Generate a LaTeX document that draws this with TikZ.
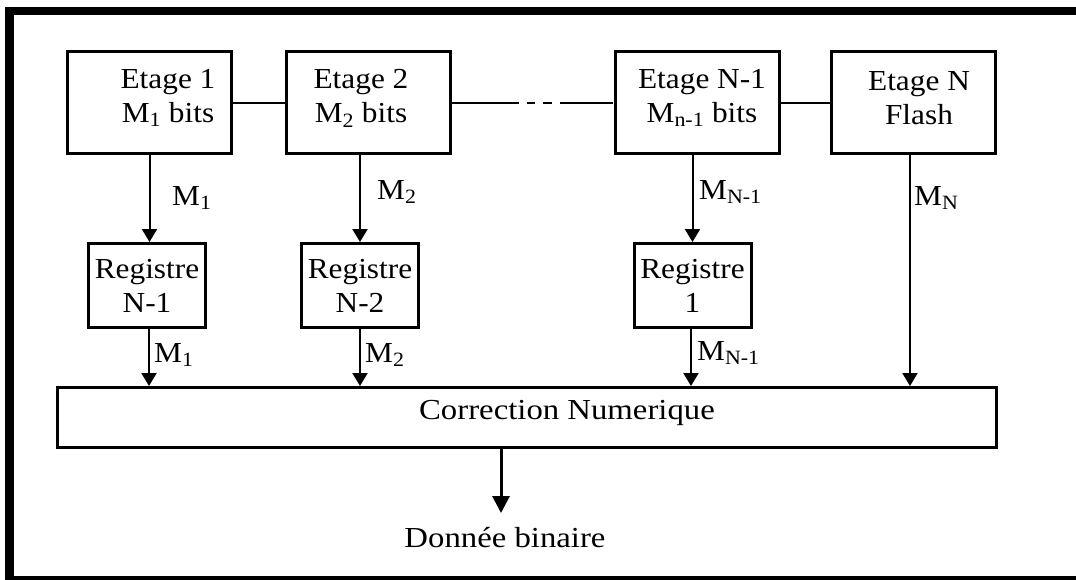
\documentclass[tikz,border=0pt]{standalone}
\usepackage{fontspec}
\setmainfont{Liberation Serif}[FakeStretch=1.08]
\newfontfamily\widefont{Liberation Serif}[FakeStretch=1.13]
\usetikzlibrary{arrows.meta}
\begin{document}
\begin{tikzpicture}[x=1pt,y=-1pt,
  txt/.style={font=\fontsize{29}{34}\selectfont, inner sep=0pt},
  widetxt/.style={font=\widefont\fontsize{29}{34}\selectfont, inner sep=0pt},
  stagebox/.style={draw, line width=3pt, minimum width=164pt, minimum height=102pt, inner sep=0pt},
  regbox/.style={draw, line width=3pt, minimum width=117pt, minimum height=84pt, inner sep=0pt, txt, align=center},
  corrbox/.style={draw, line width=3pt, minimum width=939pt, minimum height=60pt, inner sep=0pt},
  boxtext/.style={txt, align=center},
  link/.style={line width=2pt},
  flow/.style={line width=2pt, -{Triangle[length=13pt,width=15pt]}},
  outflow/.style={line width=3pt, -{Triangle[length=17pt,width=17pt]}},
  bus/.style={txt, anchor=base west},
]
\useasboundingbox (0,0) rectangle (1076,579);
\clip (0,0) rectangle (1076,579);

% outer frame: top, left and bottom edges
\draw[line width=8.5pt] (1090,11) -- (9.5,11) -- (9.5,580.5) -- (1090,580.5);

% pipeline stages
\node[stagebox] (e1) at (149.5,102.5) {};
\node[stagebox] (e2) at (368.5,102.5) {};
\node[stagebox] (e3) at (697.5,102.5) {};
\node[stagebox] (e4) at (913.5,102.5) {};
\node[boxtext] (e1t) at (168,98) {Etage 1\\M\textsubscript{1} bits};
\node[boxtext] (e2t) at (361,98) {Etage 2\\M\textsubscript{2} bits};
\node[boxtext] (e3t) at (702,98) {Etage N-1\\M\textsubscript{n-1} bits};
\node[boxtext] (e4t) at (919,98) {Etage N\\Flash};

% registers
\node[regbox] (r1) at (147,285.5) {Registre\\N-1};
\node[regbox] (r2) at (360,285.5) {Registre\\N-2};
\node[regbox] (r3) at (692.5,285.5) {Registre\\1};

% digital correction and output
\node[corrbox] (corr) at (527,417.5) {};
\node[widetxt] (corrt) at (567,413) {Correction Numerique};
\node[widetxt, anchor=north] (out) at (505,527) {Donnée binaire};

% links between stages
\draw[link] (e1) -- (e2);
\draw[link, dash pattern=on 67pt off 8pt on 8pt off 8pt on 9pt off 8pt on 53pt] (e2.east) -- (e3.west);
\draw[link] (e3) -- (e4);

% stage outputs
\draw[flow] (e1.south) -- (e1.south |- r1.north);
\draw[flow] (r2.north |- e2.south) -- (r2.north);
\draw[flow] (r3.north |- e3.south) -- (r3.north);
\draw[flow] ([xshift=-3.5pt]e4.south) -- ([xshift=-3.5pt]e4.south |- corr.north);

% register outputs
\draw[flow] ([xshift=2pt]r1.south) -- ([xshift=2pt]r1.south |- corr.north);
\draw[flow] (r2.south) -- (r2.south |- corr.north);
\draw[flow] ([xshift=-1.5pt]r3.south) -- ([xshift=-1.5pt]r3.south |- corr.north);

\draw[outflow] ([xshift=-26pt]corr.south) -- ([xshift=-26pt]corr.south |- 0,513);

% bus widths
\node[bus] (m1a) at (172,205) {M\textsubscript{1}};
\node[bus] (m2a) at (377,199) {M\textsubscript{2}};
\node[bus] (m3a) at (699,199) {M\textsubscript{N-1}};
\node[bus] (m4a) at (914,205) {M\textsubscript{N}};
\node[bus] (m1b) at (154,362) {M\textsubscript{1}};
\node[bus] (m2b) at (365,362) {M\textsubscript{2}};
\node[bus] (m3b) at (697,360) {M\textsubscript{N-1}};
\end{tikzpicture}
\end{document}
